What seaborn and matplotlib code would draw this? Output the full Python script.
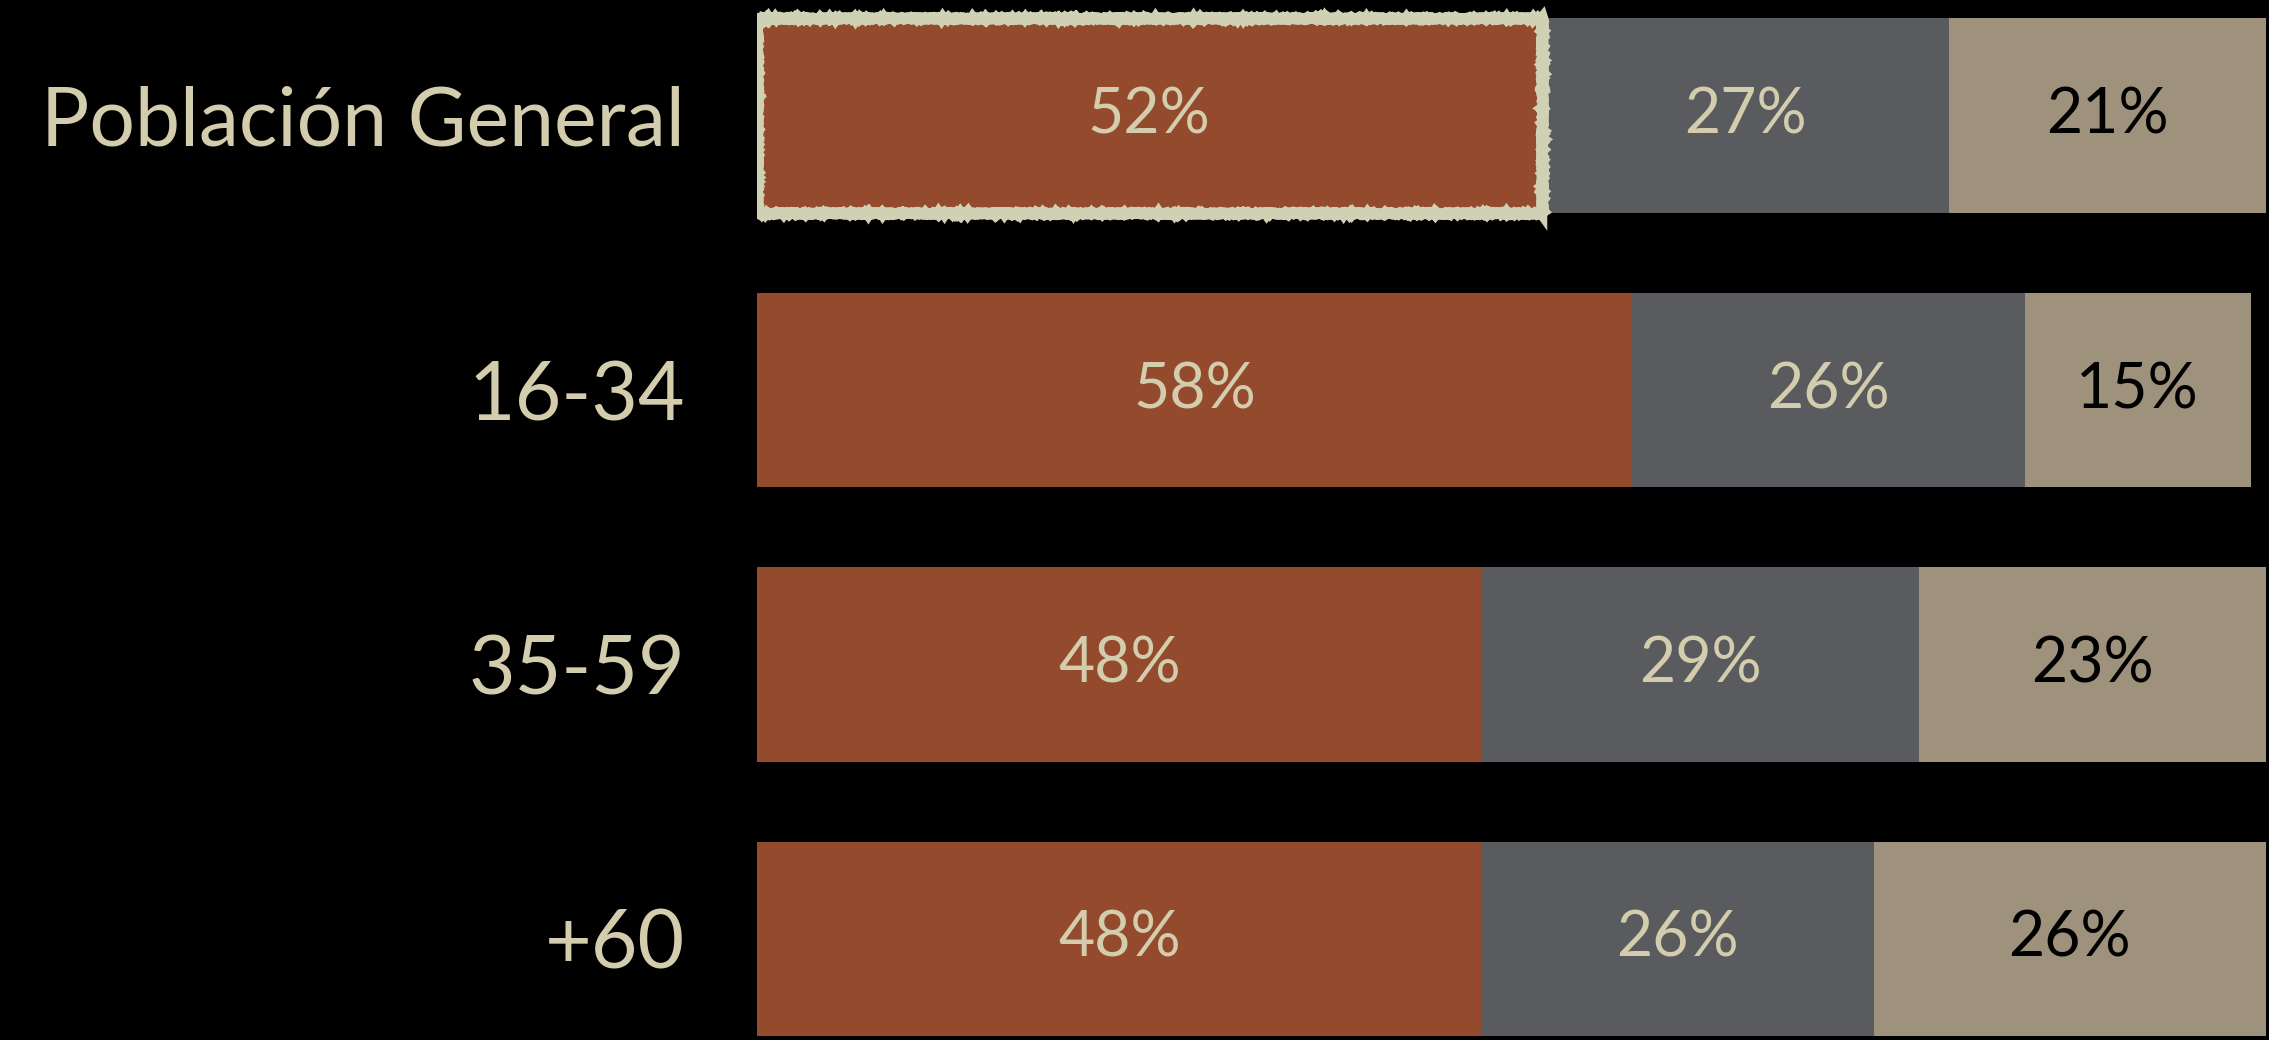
import matplotlib
matplotlib.use("Agg")
import matplotlib.pyplot as plt
import seaborn as sns
import pandas as pd
import numpy as np

categories = ["Población General", "16-34", "35-59", "+60"]
serie_a = [52, 58, 48, 48]
serie_b = [27, 26, 29, 26]
serie_c = [21, 15, 23, 26]

col_a = "#934A2D"
col_b = "#5A5B5F"
col_c = "#9E927C"
text_light = "#D3CCAD"
border_col = "#CFD0B4"

sns.set_theme(style="white")
plt.rcParams['font.family'] = ['Lato', 'DejaVu Sans']

W, H = 2269, 1040
fig = plt.figure(figsize=(W / 100, H / 100), dpi=100, facecolor="black")
ax = fig.add_axes([757 / W, 0, 1509 / W, 1])
ax.set_facecolor("black")

df = pd.DataFrame({"cat": categories,
                   "a": serie_a, "b": serie_b, "c": serie_c})
df["ab"] = df["a"] + df["b"]
df["abc"] = df["ab"] + df["c"]

bh = 0.71
sns.barplot(data=df, y="cat", x="abc", color=col_c, saturation=1,
            width=bh, orient="h", ax=ax, linewidth=0)
sns.barplot(data=df, y="cat", x="ab", color=col_b, saturation=1,
            width=bh, orient="h", ax=ax, linewidth=0)
sns.barplot(data=df, y="cat", x="a", color=col_a, saturation=1,
            width=bh, orient="h", ax=ax, linewidth=0)

ax.set_xlim(0, 100)
ax.set_ylim(3.368, -0.421)
ax.set_xlabel("")
ax.set_ylabel("")
ax.set_xticks([])
ax.tick_params(axis="y", length=0, pad=52, labelsize=58, labelcolor=text_light)
for lbl in ax.get_yticklabels():
    lbl.set_fontweight("normal")
for s in ax.spines.values():
    s.set_visible(False)

# highlight first bar of series a
first = ax.containers[2].patches[0]
first.set_edgecolor(border_col)
first.set_linewidth(8)
first.set_sketch_params(scale=0.8, length=3, randomness=6)
first.set_zorder(5)

for i in range(len(categories)):
    a, b, c = serie_a[i], serie_b[i], serie_c[i]
    kw = dict(va="center", ha="center", fontsize=45, fontweight="normal", zorder=6)
    ax.text(a / 2, i, f"{a}%", color=text_light, **kw)
    ax.text(a + b / 2, i, f"{b}%", color=text_light, **kw)
    ax.text(a + b + c / 2, i, f"{c}%", color="black", **kw)

fig.savefig("out.png", dpi=100, facecolor="black")
